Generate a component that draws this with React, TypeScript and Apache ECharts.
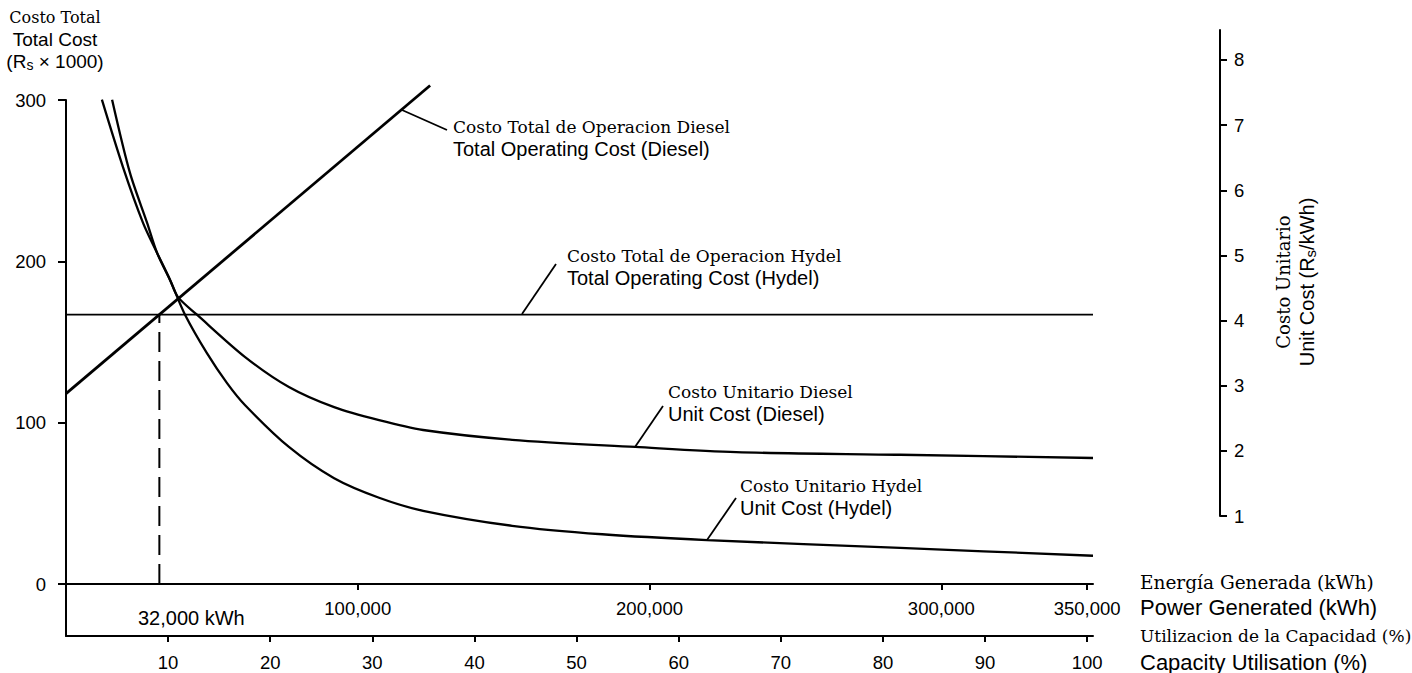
import React, { useEffect, useRef } from "react";
import * as echarts from "echarts";

// ---------- axes ----------
const KWH_MAX = 352000; // end of the drawn x axis
const KWH_PER_PERCENT = 3500; // 100 % capacity = 350,000 kWh
const COST_MIN = 0;
const COST_MAX = 300;
const costTicks = [0, 100, 200, 300];
const kwhTicks = [100000, 200000, 300000, 350000];
const capacityTicks = [10, 20, 30, 40, 50, 60, 70, 80, 90, 100];
const UNIT_MIN = 1;
const UNIT_MAX = 8.46;
const unitTicks = [1, 2, 3, 4, 5, 6, 7, 8];
const breakEvenKwh = 32000;
const breakEvenCost = 167;

// ---------- total operating cost (Rs x 1000) ----------
const dieselTotalKwh = [0, 124800];
const dieselTotalCost = [118, 309];
const hydelTotalKwh = [0, 352000];
const hydelTotalCost = [167, 167];

// ---------- unit cost (Rs/kWh) ----------
const dieselUnitKwh = [15800, 21900, 27800, 31200, 35700, 38400, 44900, 61400, 76400, 91900, 107300, 122400, 152900, 195100, 229700, 285900, 352000];
const dieselUnitCost = [7.39, 6.27, 5.5, 5.04, 4.62, 4.36, 4.09, 3.44, 2.98, 2.67, 2.47, 2.32, 2.17, 2.06, 1.98, 1.94, 1.89];
const hydelUnitKwh = [12300, 19500, 26400, 31200, 35700, 40800, 48300, 55200, 61400, 76400, 91900, 107300, 122400, 152900, 183800, 219700, 285900, 352000];
const hydelUnitCost = [7.39, 6.36, 5.5, 5.04, 4.62, 4.09, 3.5, 3.04, 2.7, 2.06, 1.58, 1.28, 1.08, 0.85, 0.72, 0.63, 0.51, 0.39];

const zip = (xs: number[], ys: number[]) => xs.map((x, i) => [x, ys[i]]);

const SERIF = "'DejaVu Serif', 'Liberation Serif', serif";
const SANS = "'Liberation Sans', Arial, sans-serif";

function txt(x: number, y: number, text: string, family: string, size: number, align = "left", more: any = {}) {
  return {
    type: "text",
    x,
    y,
    rotation: more.rotation || 0,
    style: {
      text,
      fontFamily: family,
      fontSize: size,
      fill: "#000",
      align,
      verticalAlign: "middle",
      textAlign: align,
      textVerticalAlign: "middle",
      ...(more.rich ? { rich: more.rich } : {}),
    },
  };
}

function leader(x1: number, y1: number, x2: number, y2: number) {
  return { type: "line", shape: { x1, y1, x2, y2 }, style: { stroke: "#000", lineWidth: 1.8 } };
}

export default function App() {
  const ref = useRef<HTMLDivElement>(null);

  useEffect(() => {
    if (!ref.current) return;
    const chart = echarts.init(ref.current, undefined, { renderer: "svg" });
    const axisLine = { show: true, onZero: false, lineStyle: { color: "#000", width: 2 } };
    const tick = (length: number, values: number[]) => ({
      show: true,
      length,
      customValues: values,
      lineStyle: { color: "#000", width: 2 },
    });
    const label = (margin: number, values: number[], extra: any = {}) => ({
      customValues: values,
      margin,
      fontFamily: SANS,
      fontSize: 18.5,
      color: "#000",
      ...extra,
    });
    const subRich = (size: number) => ({
      s: { fontFamily: SANS, fontSize: size - 5, verticalAlign: "bottom", padding: [7, 0, 0, 0] },
    });

    const option: any = {
      animation: false,
      backgroundColor: "#fff",
      grid: [
        { left: 66, right: 319, top: 100, height: 484 },
        { left: 66, right: 319, top: 30, height: 486 },
        { left: 66, right: 319, top: 584, height: 52 },
      ],
      xAxis: [
        {
          type: "value",
          gridIndex: 0,
          min: 0,
          max: KWH_MAX,
          position: "bottom",
          axisLine,
          axisTick: tick(6, kwhTicks),
          axisLabel: label(15, kwhTicks, { formatter: (v: number) => v.toLocaleString("en-US") }),
          splitLine: { show: false },
        },
        {
          type: "value",
          gridIndex: 2,
          min: 0,
          max: KWH_MAX / KWH_PER_PERCENT,
          position: "bottom",
          axisLine,
          axisTick: tick(6, capacityTicks),
          axisLabel: label(17, capacityTicks),
          splitLine: { show: false },
        },
        { type: "value", gridIndex: 1, min: 0, max: KWH_MAX, show: false },
      ],
      yAxis: [
        {
          type: "value",
          gridIndex: 0,
          min: COST_MIN,
          max: COST_MAX,
          position: "left",
          axisLine,
          axisTick: tick(8, costTicks),
          axisLabel: label(20, costTicks),
          splitLine: { show: false },
        },
        {
          type: "value",
          gridIndex: 1,
          min: UNIT_MIN,
          max: UNIT_MAX,
          position: "right",
          offset: 127,
          axisLine,
          axisTick: tick(7, unitTicks),
          axisLabel: label(14, unitTicks),
          splitLine: { show: false },
        },
        {
          type: "value",
          gridIndex: 2,
          min: 0,
          max: 1,
          position: "left",
          axisLine,
          axisTick: { show: false },
          axisLabel: { show: false },
          splitLine: { show: false },
        },
      ],
      series: [
        {
          name: "Total Operating Cost (Diesel)",
          type: "line",
          xAxisIndex: 0,
          yAxisIndex: 0,
          data: zip(dieselTotalKwh, dieselTotalCost),
          symbol: "none",
          clip: false,
          lineStyle: { color: "#000", width: 2.8 },
        },
        {
          name: "Total Operating Cost (Hydel)",
          type: "line",
          xAxisIndex: 0,
          yAxisIndex: 0,
          data: zip(hydelTotalKwh, hydelTotalCost),
          symbol: "none",
          clip: false,
          lineStyle: { color: "#000", width: 1.7 },
        },
        {
          name: "Break-even",
          type: "line",
          xAxisIndex: 0,
          yAxisIndex: 0,
          data: [
            [breakEvenKwh, 0],
            [breakEvenKwh, breakEvenCost],
          ],
          symbol: "none",
          lineStyle: { color: "#000", width: 2, type: [20, 9] },
        },
        {
          name: "Unit Cost (Diesel)",
          type: "line",
          xAxisIndex: 2,
          yAxisIndex: 1,
          data: zip(dieselUnitKwh, dieselUnitCost),
          symbol: "none",
          smooth: 0.3,
          clip: false,
          lineStyle: { color: "#000", width: 2.3 },
        },
        {
          name: "Unit Cost (Hydel)",
          type: "line",
          xAxisIndex: 2,
          yAxisIndex: 1,
          data: zip(hydelUnitKwh, hydelUnitCost),
          symbol: "none",
          smooth: 0.3,
          clip: false,
          lineStyle: { color: "#000", width: 2.3 },
        },
      ],
      graphic: [
        // left axis title
        txt(55, 17, "Costo Total", SERIF, 16, "center"),
        txt(55, 39, "Total Cost", SANS, 19, "center"),
        txt(55, 61, "(R{s|s} × 1000)", SANS, 19, "center", { rich: subRich(19) }),
        // right axis title (rotated, reading upward)
        txt(1283, 282, "Costo Unitario", SERIF, 18, "center", { rotation: Math.PI / 2 }),
        txt(1307, 282, "Unit Cost (R{s|s}/kWh)", SANS, 20, "center", { rotation: Math.PI / 2, rich: subRich(20) }),
        // annotations
        leader(402, 110, 447, 130),
        txt(453, 127, "Costo Total de Operacion Diesel", SERIF, 17),
        txt(453, 149, "Total Operating Cost (Diesel)", SANS, 20),
        leader(522, 314, 556, 264),
        txt(567, 256, "Costo Total de Operacion Hydel", SERIF, 17),
        txt(567, 278, "Total Operating Cost (Hydel)", SANS, 20),
        leader(635, 447, 663, 406),
        txt(668, 392, "Costo Unitario Diesel", SERIF, 17),
        txt(668, 414, "Unit Cost (Diesel)", SANS, 20),
        leader(707, 540, 736, 498),
        txt(740, 486, "Costo Unitario Hydel", SERIF, 17),
        txt(740, 508, "Unit Cost (Hydel)", SANS, 20),
        txt(138, 618, "32,000 kWh", SANS, 20),
        // x axis titles
        txt(1140, 582, "Energía Generada (kWh)", SERIF, 18.5),
        txt(1140, 607, "Power Generated (kWh)", SANS, 22),
        txt(1140, 636, "Utilizacion de la Capacidad (%)", SERIF, 17),
        txt(1140, 662, "Capacity Utilisation (%)", SANS, 22),
      ],
    };

    chart.setOption(option);
    return () => chart.dispose();
  }, []);

  return (
    <div
      ref={ref}
      style={{ position: "absolute", left: 0, top: 0, width: 1412, height: 673, background: "#fff" }}
    />
  );
}
